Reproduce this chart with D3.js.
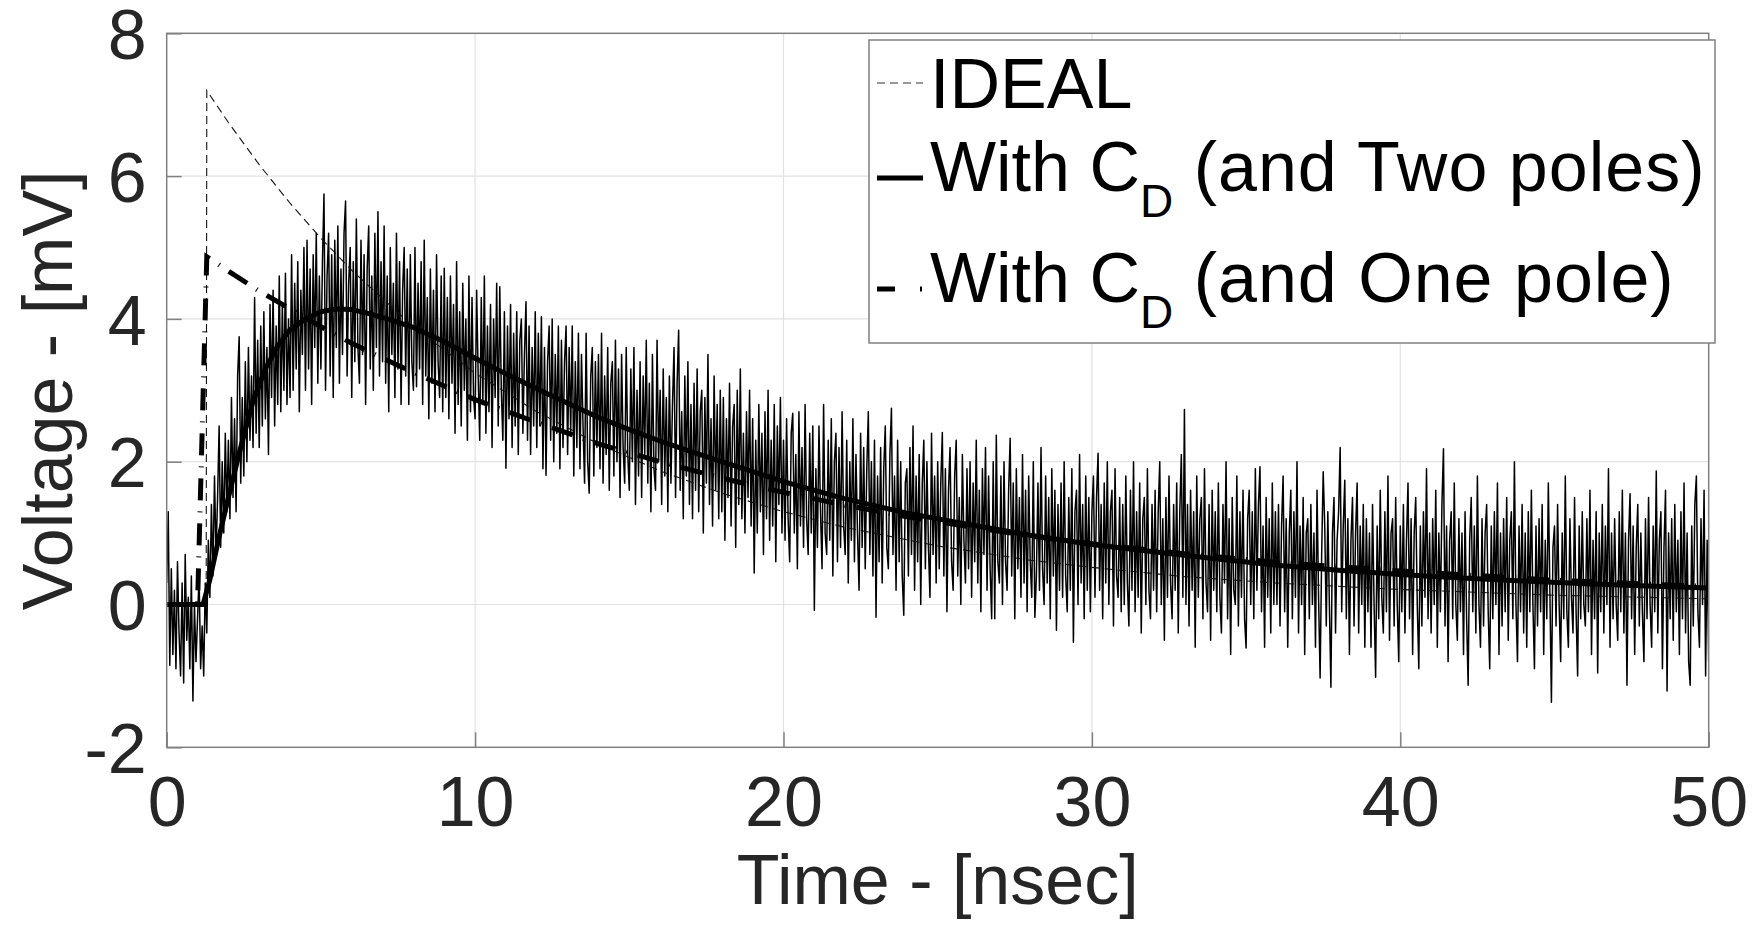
<!DOCTYPE html>
<html><head><meta charset="utf-8">
<script src="https://cdn.jsdelivr.net/npm/d3@7"></script>
<style>body{margin:0;background:#fff}svg{display:block}</style>
</head><body><svg id="c" width="1759" height="925"></svg>
<script>
// ---------- data ----------
const xTicks = [0, 10, 20, 30, 40, 50];
const yTicks = [-2, 0, 2, 4, 6, 8];
const xLabel = "Time - [nsec]";
const yLabel = "Voltage - [mV]";
const seriesNames = ["IDEAL", "With C", "With C"];

const idealT = [0, 1.28, 1.3, 2, 3, 4, 5, 6, 8, 10, 12, 14, 16, 18, 20, 22, 25, 28, 30, 33, 36, 40, 45, 50];
const idealV = [0, 0, 7.2, 6.75, 6.16, 5.62, 5.13, 4.68, 3.89, 3.24, 2.70, 2.25, 1.87, 1.56, 1.30, 1.08, 0.82, 0.62, 0.52, 0.39, 0.30, 0.21, 0.13, 0.08];

const twoPoleT = [0, 1.18, 1.4, 1.7, 2.0, 2.4, 2.8, 3.2, 3.6, 4.0, 4.5, 5.0, 5.5, 6.0, 6.5, 7.0, 8, 9, 10, 11, 12, 13, 14, 15, 16, 17, 18, 19, 20, 22, 24, 26, 28, 30, 32, 34, 36, 38, 40, 42, 44, 46, 48, 50];
const twoPoleV = [0, 0, 0.35, 0.95, 1.5, 2.2, 2.85, 3.3, 3.62, 3.85, 4.0, 4.1, 4.14, 4.13, 4.08, 4.02, 3.88, 3.68, 3.45, 3.23, 3.02, 2.82, 2.62, 2.45, 2.29, 2.14, 2.0, 1.86, 1.72, 1.48, 1.28, 1.12, 0.97, 0.84, 0.74, 0.64, 0.55, 0.48, 0.42, 0.37, 0.33, 0.29, 0.26, 0.23];

const onePoleT = [0, 1.0, 1.3, 2, 3, 4, 5, 6, 7, 8, 10, 12, 14, 16, 18, 20, 22, 24, 26, 28, 30, 33, 36, 40, 45, 50];
const onePoleV = [0, 0, 4.87, 4.67, 4.39, 4.14, 3.89, 3.66, 3.45, 3.25, 2.87, 2.55, 2.25, 2.0, 1.77, 1.57, 1.39, 1.23, 1.09, 0.96, 0.85, 0.71, 0.59, 0.47, 0.34, 0.25];

// measured (noisy) trace, one sample every 0.05 ns from 0 to 50 ns
const noisyStart = 0, noisyStep = 0.05;
const noisyV = [
0.3,1.3,-0.85,0.5,-0.7,0.2,-0.9,0.6,-0.4,-1.0,0.3,-1.1,0.7,-0.5,0.1,-0.9,0.4,-1.35,0.0,-0.8,
-0.2,0.4,-0.9,-0.3,-1.0,0.3,-0.4,0.9,0.1,1.4,0.4,1.8,0.7,1.5,2.5,0.8,2.0,1.0,2.4,1.3,
2.3,1.2,2.9,1.5,2.6,1.3,3.2,3.75,1.7,2.9,1.8,3.4,2.0,3.6,2.3,3.2,2.2,4.3,2.4,3.7,
2.2,3.9,2.5,4.1,2.6,3.6,2.1,4.2,2.9,4.4,2.5,3.9,2.8,4.6,2.7,4.2,3.0,4.64,2.8,4.0,
2.9,4.9,3.0,4.5,3.3,4.8,2.7,4.4,3.5,5.0,3.0,5.1,3.3,4.7,2.8,4.9,3.6,5.2,3.1,4.6,
3.3,4.8,5.75,3.0,4.6,5.2,3.2,4.9,2.9,5.1,3.6,5.3,3.1,4.7,3.5,5.2,5.65,3.2,4.5,5.0,
2.9,4.8,3.4,5.4,3.6,3.1,5.1,3.5,4.9,2.8,4.7,5.3,3.3,4.6,3.0,5.2,3.6,5.5,3.2,4.8,
3.4,5.3,3.1,4.6,2.7,5.0,3.5,4.5,2.9,5.2,3.3,4.8,2.8,4.4,5.0,3.2,4.7,2.8,4.9,3.4,
3.0,5.0,3.05,4.5,3.3,4.8,2.8,5.1,3.2,4.3,2.6,4.7,3.1,4.4,2.7,4.9,3.4,2.9,4.6,2.7,
4.71,2.9,4.3,2.6,4.6,3.1,4.2,2.4,4.8,2.8,4.1,2.5,4.5,3.0,4.0,2.3,4.6,2.7,4.3,2.9,
2.6,4.4,3.2,2.3,4.3,2.8,4.6,2.4,3.9,2.7,4.2,2.2,4.0,2.9,4.5,2.5,4.45,3.0,2.3,4.1,
1.91,3.9,2.6,4.2,2.2,3.8,2.5,4.1,2.1,3.7,4.0,2.4,3.5,4.24,2.3,3.9,2.1,3.6,2.5,4.1,
2.2,3.8,2.5,4.03,1.9,3.6,1.81,3.4,3.9,2.3,4.0,2.0,3.5,2.4,3.9,1.9,3.7,2.2,3.4,3.9,
2.1,3.6,2.4,3.9,1.8,3.4,2.2,3.8,1.9,3.5,2.5,1.7,3.8,2.0,1.56,3.2,3.6,1.8,3.4,2.2,
3.5,1.9,3.8,1.7,3.2,2.1,3.6,1.6,3.1,3.4,1.8,3.7,2.0,3.3,1.5,3.5,2.2,1.7,3.6,2.1,
1.6,3.3,2.0,3.6,1.4,3.0,1.8,3.4,1.5,3.2,2.1,3.7,1.7,3.1,1.3,3.5,1.9,1.6,3.7,2.0,
3.0,1.4,3.3,1.8,2.9,1.3,3.2,1.7,2.8,3.6,1.5,3.1,3.84,1.6,2.7,1.2,3.2,1.8,3.4,1.4,
2.8,1.2,3.1,1.6,3.3,1.3,2.7,3.0,1.0,2.9,1.7,3.5,1.4,2.6,1.1,3.2,1.6,2.8,1.2,3.0,
1.3,2.9,0.9,2.6,1.5,3.1,1.1,2.5,2.8,0.8,3.0,1.4,3.3,1.2,2.4,1.0,2.7,1.5,3.0,1.1,
2.6,0.44,2.3,1.0,2.8,1.3,2.4,0.7,2.7,1.2,3.0,0.9,2.3,1.1,2.8,0.6,2.5,1.4,2.9,1.0,
2.3,0.9,2.6,1.2,0.6,2.4,2.68,1.0,2.1,0.5,2.7,1.1,2.2,0.8,2.8,1.2,0.7,2.4,1.0,2.5,
-0.08,1.9,0.8,2.5,1.3,0.5,2.8,1.0,0.7,2.3,0.9,2.6,0.4,2.0,2.4,0.6,2.2,0.8,2.7,1.1,
0.7,2.3,0.3,2.0,0.9,2.6,0.6,2.1,1.0,0.2,2.4,0.8,2.2,0.5,1.9,2.7,0.7,2.0,0.4,2.3,
-0.18,1.8,0.6,2.2,0.3,1.9,2.5,0.8,0.5,2.1,2.75,0.7,1.8,0.2,2.3,0.6,2.0,0.4,-0.15,1.7,
1.9,0.4,2.2,0.7,2.5,0.2,1.8,0.6,2.1,0.0,1.7,2.3,0.5,2.0,0.8,0.1,2.4,0.7,1.8,0.3,
2.0,0.5,1.7,2.41,0.4,1.9,-0.1,1.6,2.2,0.6,0.2,1.8,2.3,0.4,1.5,0.0,2.1,0.9,0.3,1.9,
0.5,2.0,0.1,1.7,0.6,2.3,0.3,1.6,-0.1,1.9,0.7,2.2,0.2,1.8,0.5,-0.2,2.0,-0.2,2.37,0.6,
0.3,1.8,0.0,2.0,0.6,0.2,1.6,2.33,0.4,1.7,-0.2,1.9,0.5,1.5,0.1,2.1,0.3,1.6,-0.1,1.8,
0.6,0.1,2.0,-0.18,0.4,1.7,0.2,2.2,0.5,0.0,1.8,0.3,1.5,-0.2,1.9,0.4,1.6,-0.36,1.4,0.2,
1.7,0.1,2.0,0.4,-0.1,1.5,0.2,1.9,-0.53,1.3,1.6,0.0,2.1,0.3,1.4,-0.2,1.8,0.2,1.5,-0.1,
1.3,1.8,0.1,1.5,2.12,0.2,1.4,-0.2,1.7,0.3,2.0,0.0,1.3,1.6,-0.3,1.9,0.4,0.1,1.5,-0.1,
1.4,0.0,1.8,0.3,-0.3,1.6,0.2,2.0,-0.1,1.3,0.1,1.7,-0.4,1.2,1.5,0.0,1.9,0.2,-0.2,1.4,
0.2,1.6,-0.1,1.3,2.0,0.0,1.2,-0.5,1.5,0.1,1.8,0.3,-0.2,1.4,0.2,1.7,-0.4,1.3,2.1,0.1,
2.73,0.0,1.4,-0.3,1.6,0.2,1.3,-0.6,1.8,0.1,1.2,1.5,-0.2,1.9,0.3,-0.1,1.4,-0.5,1.6,0.2,
1.3,-0.1,1.7,0.1,-0.4,1.4,0.3,2.0,-0.2,1.2,-0.7,1.5,0.2,0.0,1.8,-0.3,1.3,0.1,1.6,-0.2,
-0.61,1.2,1.6,0.0,1.3,-0.2,1.9,0.2,1.4,1.93,-0.1,1.1,-0.6,1.5,0.1,1.2,-0.4,1.7,0.0,1.3,
0.0,1.4,-0.3,1.1,1.8,-0.1,1.2,-0.6,1.0,1.6,-0.2,1.3,0.1,2.0,-0.4,1.1,0.0,1.5,-0.7,1.0,
1.2,-0.2,1.4,0.0,1.0,-0.6,1.6,0.1,-1.03,0.7,1.86,1.1,-0.3,1.3,0.0,-1.16,1.0,1.5,-0.4,0.9,
1.3,2.2,-0.1,1.1,1.74,-0.2,1.2,-0.7,0.9,1.5,-0.3,1.0,1.7,-0.4,1.1,0.0,1.4,-0.6,1.2,-0.1,
1.0,-0.6,1.4,0.0,-1.02,1.1,-0.2,1.6,0.1,-0.4,1.3,-0.1,1.8,-0.5,1.0,1.2,-0.3,1.5,0.0,-0.8,
1.1,-0.1,1.4,-0.4,0.9,1.7,-0.2,1.2,-0.7,1.0,1.5,0.0,-0.9,1.1,-0.3,1.3,0.1,1.9,-0.2,1.0,
-0.4,1.2,0.0,1.6,-0.6,1.0,-0.1,1.4,2.18,-0.3,1.1,-0.8,0.9,1.3,-0.2,1.7,0.0,-0.5,1.2,-0.1,
1.0,-0.7,1.3,-0.2,-1.13,0.9,1.5,-0.1,1.1,-0.4,1.8,0.0,-0.6,1.2,-0.3,1.0,1.4,-0.1,-0.9,1.1,
-0.2,1.3,0.0,1.7,-0.7,1.0,-0.3,1.2,-0.1,1.5,-0.5,0.9,1.3,-0.2,2.0,0.0,-0.8,1.1,-0.1,1.4,
-0.4,1.0,-0.6,1.3,-0.1,1.6,0.0,-0.9,1.1,-0.3,1.2,-0.1,1.4,-0.7,0.9,-0.2,1.7,0.2,-1.37,0.8,
1.1,-0.3,1.4,0.0,-0.8,1.0,-0.2,1.8,-0.1,-0.6,1.2,0.1,-0.4,1.5,-0.1,-1.0,1.1,-0.2,1.3,0.0,
-0.3,1.2,-0.1,1.6,-0.7,0.9,-0.2,1.3,-0.96,1.0,-0.1,1.4,-0.4,1.1,0.0,1.9,-0.6,1.0,-0.2,1.2,
0.0,-0.5,1.3,-0.1,1.6,-0.4,1.0,-1.13,0.9,1.55,-0.2,1.1,-0.7,0.8,1.4,-0.3,1.0,-0.1,-0.8,1.2,
-0.2,1.5,0.0,-0.6,1.1,-0.1,1.87,-0.4,0.9,1.3,-0.9,0.8,1.6,-1.21,1.0,-0.2,1.2,-0.5,1.4,-0.1,
0.9,-0.7,1.3,-0.2,1.7,-0.4,1.0,-0.8,-1.13,1.1,-0.3,1.4,1.8,-0.1,-0.6,1.2,0.0,1.6,-1.0,0.9,
-0.8
];

// ---------- layout ----------
const FONT = "'Liberation Sans', Arial, Helvetica, sans-serif";
const box = {l: 166.7, r: 1708.7, t: 33.3, b: 747.3};
const svg = d3.select("#c");
svg.append("rect").attr("width", 1759).attr("height", 925).attr("fill", "#fff");

const x = d3.scaleLinear().domain([0, 50]).range([box.l, box.r]);
const y = d3.scaleLinear().domain([-2, 8]).range([box.b, box.t]);

svg.append("defs").append("clipPath").attr("id", "clip").append("rect")
  .attr("x", box.l).attr("y", box.t).attr("width", box.r - box.l).attr("height", box.b - box.t);

// grid
const grid = svg.append("g").attr("stroke", "#e2e2e2").attr("stroke-width", 1.2);
grid.selectAll(".gx").data(xTicks.slice(1, -1)).join("line")
  .attr("x1", d => x(d)).attr("x2", d => x(d)).attr("y1", box.t).attr("y2", box.b);
grid.selectAll(".gy").data(yTicks.slice(1, -1)).join("line")
  .attr("y1", d => y(d)).attr("y2", d => y(d)).attr("x1", box.l).attr("x2", box.r);

// axes
function styleAxis(g) {
  g.select(".domain").remove();
  g.attr("font-family", FONT).attr("font-size", 70);
  g.selectAll(".tick line").attr("stroke", "#808080").attr("stroke-width", 1.5);
  g.selectAll(".tick text").attr("fill", "#262626");
}
svg.append("g").attr("transform", `translate(0,${box.b})`)
  .call(d3.axisBottom(x).tickValues(xTicks).tickSize(-15).tickSizeOuter(0).tickPadding(29).tickFormat(d => String(d)))
  .call(styleAxis);
svg.append("g").attr("transform", `translate(${box.l},0)`)
  .call(d3.axisLeft(y).tickValues(yTicks).tickSize(-15).tickSizeOuter(0).tickPadding(20).tickFormat(d => String(d)))
  .call(styleAxis)
  .selectAll(".tick text").attr("dy", "0.36em");

// curves
const line = d3.line().x(d => x(d[0])).y(d => y(d[1]));
const plot = svg.append("g").attr("clip-path", "url(#clip)");
const noisy = noisyV.map((v, i) => [noisyStart + i * noisyStep, v]);
plot.append("path").attr("d", line(noisy)).attr("fill", "none")
  .attr("stroke", "#000").attr("stroke-width", 1.5).attr("stroke-linejoin", "round");
plot.append("path").attr("d", line(idealT.map((t, i) => [t, idealV[i]]))).attr("fill", "none")
  .attr("stroke", "#111").attr("stroke-width", 1.1).attr("stroke-dasharray", "8,5");
plot.append("path").attr("d", line(onePoleT.map((t, i) => [t, onePoleV[i]]))).attr("fill", "none")
  .attr("stroke", "#000").attr("stroke-width", 5).attr("stroke-dasharray", "22,11,1,11");
plot.append("path").attr("d", line(twoPoleT.map((t, i) => [t, twoPoleV[i]]))).attr("fill", "none")
  .attr("stroke", "#000").attr("stroke-width", 5).attr("stroke-linejoin", "round");

// box
svg.append("rect").attr("x", box.l).attr("y", box.t).attr("width", box.r - box.l).attr("height", box.b - box.t)
  .attr("fill", "none").attr("stroke", "#808080").attr("stroke-width", 1.5);

// axis labels
svg.append("text").attr("x", (box.l + box.r) / 2).attr("y", 904).attr("text-anchor", "middle")
  .attr("font-family", FONT).attr("font-size", 70).attr("fill", "#262626").text(xLabel);
svg.append("text").attr("transform", `translate(72,${(box.t + box.b) / 2}) rotate(-90)`).attr("text-anchor", "middle")
  .attr("font-family", FONT).attr("font-size", 70).attr("fill", "#262626").text(yLabel);

// legend
const lg = svg.append("g");
lg.append("rect").attr("x", 869).attr("y", 40).attr("width", 846).attr("height", 303)
  .attr("fill", "#fff").attr("stroke", "#808080").attr("stroke-width", 1.5);
const rows = [
  {base: 108, mid: 83, dash: "8,5", w: 1.1, main: seriesNames[0], sub: null, tail: null, col: "#333"},
  {base: 191, mid: 178, dash: null, w: 5, main: seriesNames[1], sub: "D", tail: " (and Two poles)", col: "#000"},
  {base: 302, mid: 289, dash: "18,25,2,10", w: 5, main: seriesNames[2], sub: "D", tail: " (and One pole)", col: "#000"}
];
rows.forEach(r => {
  const l = lg.append("line").attr("x1", 877).attr("x2", 923).attr("y1", r.mid).attr("y2", r.mid)
    .attr("stroke", r.col).attr("stroke-width", r.w);
  if (r.dash) l.attr("stroke-dasharray", r.dash);
  const t = lg.append("text").attr("x", 930).attr("y", r.base).attr("font-family", FONT)
    .attr("font-size", 70).attr("fill", "#000");
  t.append("tspan").text(r.main);
  if (r.sub) {
    t.append("tspan").attr("font-size", 46).attr("dy", 26).text(r.sub);
    t.append("tspan").attr("font-size", 70).attr("dy", -26).attr("letter-spacing", 1).text(r.tail);
  }
});
</script>
</body></html>
